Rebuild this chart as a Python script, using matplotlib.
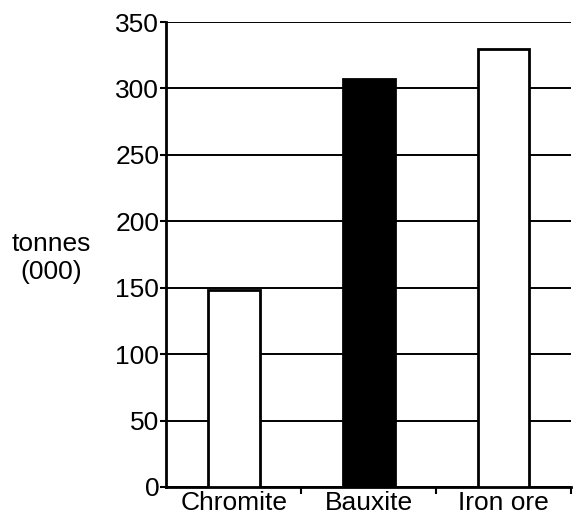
import matplotlib.pyplot as plt
import numpy as np

plt.rcParams['font.family'] = ['Liberation Sans', 'DejaVu Sans']

minerals = ['Chromite', 'Bauxite', 'Iron ore']
tonnes = [148, 307, 330]
fills = ['white', 'black', 'white']
yticks = [0, 50, 100, 150, 200, 250, 300, 350]

fig = plt.figure(figsize=(5.73, 5.19), dpi=100)
ax = fig.add_axes([0.290, 0.0617, 0.7065, 0.8959])

x = np.arange(len(minerals))
ax.bar(x, tonnes, width=0.385, color=fills, edgecolor='black', linewidth=2, zorder=3)

ax.set_xlim(-0.5, 2.5)
ax.set_ylim(0, 350)
ax.set_yticks(yticks)
ax.yaxis.grid(True, color='black', linewidth=1.4, zorder=0)
ax.set_axisbelow(True)

ax.set_xticks(x)
ax.set_xticklabels(minerals, fontsize=19)
ax.tick_params(axis='x', length=0, pad=3)
ax.set_xticks([0.5, 1.5, 2.5], minor=True)
ax.tick_params(axis='x', which='minor', length=5, width=1.5, direction='out')
ax.tick_params(axis='y', labelsize=19, length=4, width=1.5, pad=1)

for s in ['top', 'right']:
    ax.spines[s].set_visible(False)
ax.spines['left'].set_linewidth(2)
ax.spines['bottom'].set_linewidth(2)

fig.text(0.089, 0.503, 'tonnes\n(000)', ha='center', va='center', fontsize=19, linespacing=1.25)

fig.savefig('out.png', dpi=100)
